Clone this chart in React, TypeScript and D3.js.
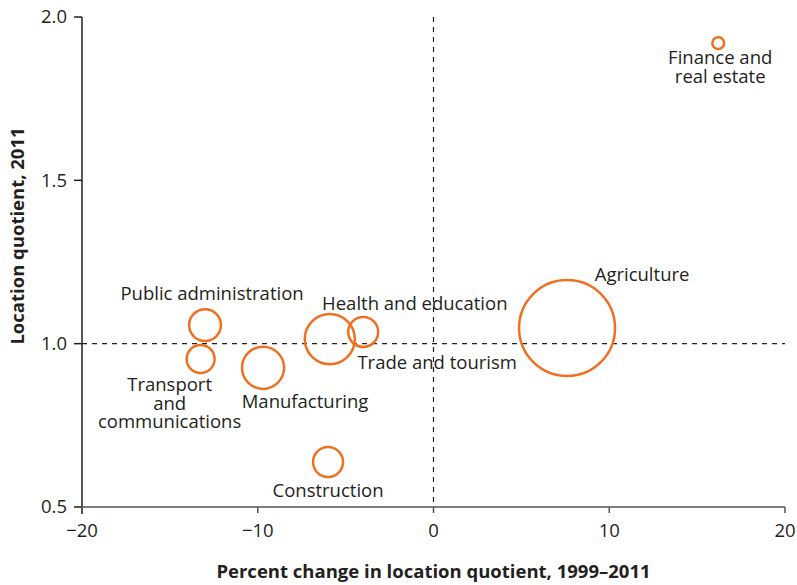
import React from 'react'
import * as d3 from 'd3'

// Sectors
const sectors = ['Finance and real estate', 'Public administration', 'Transport and communications', 'Manufacturing', 'Health and education', 'Trade and tourism', 'Construction', 'Agriculture']
const pctChange = [16.2, -13.0, -13.25, -9.7, -5.9, -4.0, -6.0, 7.6]
const quotient = [1.92, 1.057, 0.953, 0.926, 1.014, 1.036, 0.638, 1.048]
const employment = [0.6, 4.4, 3.4, 7.7, 10.9, 3.9, 3.9, 40]

const xTicks = [-20, -10, 0, 10, 20]
const yTicks = [0.5, 1.0, 1.5, 2.0]

// label lines and placement (pixel offsets from bubble centre)
const labelLines = [['Finance and', 'real estate'], ['Public administration'], ['Transport', 'and', 'communications'], ['Manufacturing'], ['Health and education'], ['Trade and tourism'], ['Construction'], ['Agriculture']]
const labelOffsets: [number, number][] = [[2, 21], [7, -25], [-31, 32], [42, 40], [85, -29], [74, 37], [0, 35], [75, -47]]

const W = 797
const H = 585
const margin = { left: 82, right: 12, top: 17, bottom: 78 }
const ink = '#231f20'
const orange = '#f07022'
const font = '"Open Sans", "Noto Sans", sans-serif'
const fs = 18.5

const App = () => {
    const x = d3.scaleLinear().domain([-20, 20]).range([margin.left, W - margin.right])
    const y = d3.scaleLinear().domain([0.5, 2.0]).range([H - margin.bottom, margin.top])
    const r = d3.scaleSqrt().domain([0, d3.max(employment)]).range([0, 48])

    const x0 = x(-20)
    const y0 = y(0.5)

    return (
        <svg width={W} height={H} style={{ position: 'absolute', left: 0, top: 0 }} fontFamily={font}>
            {/* reference lines */}
            <line x1={x(0)} x2={x(0)} y1={y(2.0)} y2={y0} stroke={ink} strokeWidth={1.2} strokeDasharray="5,5" />
            <line x1={x0} x2={x(20)} y1={y(1.0)} y2={y(1.0)} stroke={ink} strokeWidth={1.2} strokeDasharray="5,5" />

            {/* y axis */}
            <line x1={x0} x2={x0} y1={y(2.0)} y2={y0 + 7} stroke={ink} strokeWidth={1.5} />
            {yTicks.map(t => (
                <g key={t}>
                    <line x1={x0 - 8} x2={x0} y1={y(t)} y2={y(t)} stroke={ink} strokeWidth={1.5} />
                    <text x={x0 - 15} y={y(t)} dy="0.35em" textAnchor="end" fontSize={fs} fill={ink}>{d3.format('.1f')(t)}</text>
                </g>
            ))}

            {/* x axis */}
            <line x1={x0 - 8} x2={x(20)} y1={y0} y2={y0} stroke="#555" strokeWidth={1.5} />
            {xTicks.map(t => (
                <g key={t}>
                    <line x1={x(t)} x2={x(t)} y1={y0} y2={y0 + 6} stroke="#555" strokeWidth={1.5} />
                    <text x={x(t)} y={y0 + 30} textAnchor="middle" fontSize={fs} fill={ink}>{t < 0 ? '\u2212' + Math.abs(t) : t}</text>
                </g>
            ))}

            {/* bubbles */}
            {sectors.map((s, i) => (
                <circle key={s} cx={x(pctChange[i])} cy={y(quotient[i])} r={r(employment[i])} fill="none" stroke={orange} strokeWidth={2.5} />
            ))}

            {/* labels */}
            {sectors.map((s, i) => {
                const [dx, dy] = labelOffsets[i]
                const cx = x(pctChange[i]) + dx
                const cy = y(quotient[i]) + dy
                return (
                    <text key={s} x={cx} y={cy} textAnchor="middle" fontSize={fs} fill={ink}>
                        {labelLines[i].map((l, j) => (
                            <tspan key={j} x={cx} dy={j === 0 ? 0 : 18.5}>{l}</tspan>
                        ))}
                    </text>
                )
            })}

            {/* axis titles */}
            <text transform={`translate(24,${(y(2.0) + y0) / 2 - 26}) rotate(-90)`} textAnchor="middle" fontSize={fs} fontWeight="bold" fill={ink}>Location quotient, 2011</text>
            <text x={x(0)} y={H - 7} textAnchor="middle" fontSize={fs} fontWeight="bold" fill={ink}>Percent change in location quotient, 1999–2011</text>
        </svg>
    )
}

export default App
